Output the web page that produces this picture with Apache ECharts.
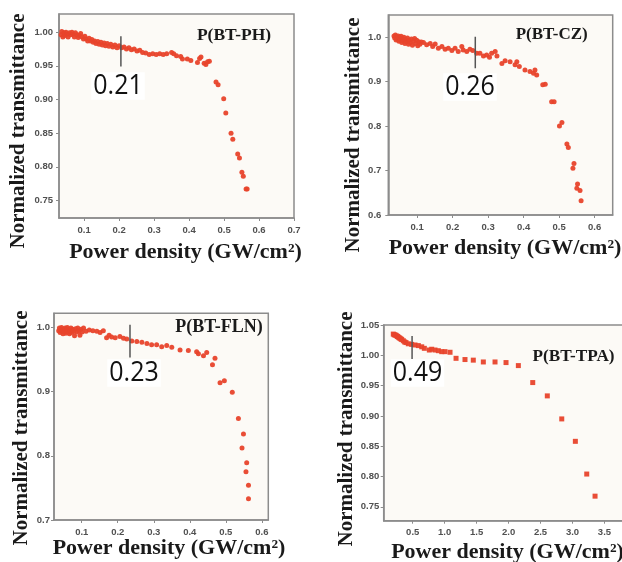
<!DOCTYPE html>
<html><head><meta charset="utf-8">
<script src="https://cdn.jsdelivr.net/npm/echarts@6/dist/echarts.min.js"></script>
<style>html,body{margin:0;padding:0;background:#fff}#c{width:622px;height:562px}</style>
</head><body><div id="c"></div>
<script>
// ---------- DATA ----------
const sampleNames = ['P(BT-PH)', 'P(BT-CZ)', 'P(BT-FLN)', 'P(BT-TPA)'];
const thresholdLabels = ['0.21', '0.26', '0.23', '0.49'];
const yTitle = 'Normalized transmittance';
const xTitle = 'Power density (GW/cm²)';

const phData = [[0.034,0.996],[0.036,1.001],[0.039,0.993],[0.042,0.999],[0.045,0.995],[0.048,1.000],[0.051,0.997],[0.054,0.993],[0.058,0.999],[0.061,0.996],[0.065,1.000],[0.068,0.997],[0.072,0.993],[0.075,0.999],[0.079,0.996],[0.083,0.992],[0.086,0.995],[0.090,0.998],[0.094,0.993],[0.098,0.990],[0.102,0.994],[0.106,0.990],[0.110,0.987],[0.114,0.991],[0.118,0.987],[0.122,0.989],[0.126,0.985],[0.130,0.987],[0.134,0.983],[0.139,0.986],[0.143,0.982],[0.148,0.985],[0.152,0.981],[0.157,0.984],[0.161,0.980],[0.166,0.983],[0.171,0.979],[0.176,0.982],[0.182,0.978],[0.188,0.981],[0.194,0.977],[0.200,0.980],[0.207,0.977],[0.214,0.978],[0.221,0.975],[0.228,0.977],[0.235,0.974],[0.243,0.975],[0.251,0.972],[0.259,0.973],[0.267,0.970],[0.276,0.969],[0.286,0.967],[0.296,0.968],[0.306,0.967],[0.316,0.968],[0.326,0.967],[0.336,0.968],[0.350,0.970],[0.356,0.968],[0.364,0.965],[0.376,0.964],[0.381,0.960],[0.395,0.960],[0.405,0.958],[0.424,0.955],[0.430,0.961],[0.434,0.963],[0.443,0.954],[0.448,0.952],[0.453,0.956],[0.458,0.957],[0.477,0.926],[0.483,0.922],[0.499,0.901],[0.505,0.880],[0.520,0.850],[0.525,0.841],[0.539,0.819],[0.544,0.813],[0.551,0.792],[0.555,0.786],[0.563,0.767],[0.566,0.767]];

const czData = [[0.035,1.003],[0.037,0.998],[0.039,1.005],[0.041,0.994],[0.043,1.001],[0.045,0.996],[0.047,1.003],[0.049,0.991],[0.051,0.999],[0.053,0.994],[0.055,1.002],[0.057,0.988],[0.059,0.997],[0.061,0.992],[0.063,1.000],[0.066,0.986],[0.068,0.995],[0.070,0.990],[0.073,0.998],[0.076,0.984],[0.078,0.993],[0.081,0.988],[0.084,0.996],[0.087,0.982],[0.090,0.992],[0.093,0.997],[0.096,0.986],[0.099,0.993],[0.102,0.981],[0.105,0.990],[0.108,0.984],[0.112,0.989],[0.118,0.988],[0.127,0.983],[0.137,0.986],[0.144,0.979],[0.151,0.985],[0.160,0.975],[0.170,0.979],[0.179,0.973],[0.188,0.975],[0.198,0.970],[0.207,0.975],[0.216,0.968],[0.226,0.979],[0.230,0.971],[0.240,0.968],[0.249,0.973],[0.257,0.970],[0.268,0.964],[0.277,0.964],[0.287,0.958],[0.296,0.960],[0.304,0.955],[0.310,0.964],[0.320,0.968],[0.325,0.958],[0.339,0.941],[0.348,0.947],[0.362,0.945],[0.376,0.938],[0.381,0.945],[0.388,0.934],[0.404,0.926],[0.418,0.923],[0.428,0.919],[0.432,0.926],[0.437,0.915],[0.454,0.893],[0.461,0.894],[0.479,0.855],[0.486,0.855],[0.501,0.800],[0.508,0.808],[0.522,0.760],[0.526,0.752],[0.542,0.716],[0.539,0.705],[0.552,0.670],[0.550,0.660],[0.559,0.655],[0.562,0.632]];

const flnData = [[0.036,0.995],[0.038,0.999],[0.040,0.992],[0.042,0.997],[0.044,1.000],[0.046,0.994],[0.048,0.990],[0.050,0.997],[0.052,0.993],[0.054,0.999],[0.056,0.991],[0.058,0.996],[0.060,1.000],[0.062,0.993],[0.064,0.997],[0.066,0.990],[0.068,0.995],[0.070,0.999],[0.072,0.992],[0.075,0.997],[0.078,0.994],[0.080,0.987],[0.083,0.998],[0.086,0.993],[0.089,0.999],[0.092,0.995],[0.095,0.988],[0.098,0.997],[0.101,0.993],[0.105,0.999],[0.112,0.994],[0.121,0.996],[0.131,0.995],[0.142,0.994],[0.151,0.992],[0.160,0.995],[0.169,0.984],[0.176,0.988],[0.183,0.985],[0.193,0.984],[0.206,0.986],[0.216,0.983],[0.225,0.982],[0.239,0.979],[0.253,0.978],[0.267,0.977],[0.281,0.975],[0.294,0.973],[0.308,0.973],[0.322,0.970],[0.336,0.972],[0.350,0.969],[0.373,0.965],[0.396,0.964],[0.419,0.962],[0.424,0.959],[0.438,0.956],[0.447,0.961],[0.463,0.942],[0.470,0.952],[0.484,0.914],[0.496,0.917],[0.518,0.899],[0.535,0.858],[0.549,0.834],[0.545,0.812],[0.558,0.789],[0.556,0.775],[0.563,0.754],[0.563,0.733]];

const tpaData = [[0.196,1.035],[0.210,1.034],[0.223,1.0335],[0.237,1.033],[0.250,1.032],[0.262,1.031],[0.275,1.030],[0.288,1.029],[0.301,1.028],[0.315,1.027],[0.328,1.026],[0.353,1.024],[0.374,1.022],[0.395,1.021],[0.431,1.019],[0.484,1.018],[0.536,1.017],[0.588,1.016],[0.641,1.014],[0.682,1.0115],[0.760,1.0087],[0.797,1.010],[0.849,1.0087],[0.901,1.0076],[0.954,1.006],[1.005,1.006],[1.084,1.005],[1.178,0.995],[1.318,0.993],[1.448,0.992],[1.605,0.989],[1.788,0.989],[1.960,0.988],[2.153,0.983],[2.378,0.955],[2.606,0.933],[2.832,0.895],[3.045,0.858],[3.223,0.804],[3.353,0.7675]];

// threshold marker segments [x, yLow, yHigh]
const markPH = [0.205, 0.949, 0.994];
const markCZ = [0.264, 0.930, 1.001];
const markFLN = [0.234, 0.953, 1.004];
const markTPA = [0.49, 0.994, 1.032];

// tick values
const xTicksPH = [0.1,0.2,0.3,0.4,0.5,0.6,0.7];
const yTicksPH = [0.75,0.80,0.85,0.90,0.95,1.00];
const xTicksCZ = [0.1,0.2,0.3,0.4,0.5,0.6];
const yTicksCZ = [0.6,0.7,0.8,0.9,1.0];
const xTicksFLN = [0.1,0.2,0.3,0.4,0.5,0.6];
const yTicksFLN = [0.7,0.8,0.9,1.0];
const xTicksTPA = [0.5,1.0,1.5,2.0,2.5,3.0,3.5];
const yTicksTPA = [0.75,0.80,0.85,0.90,0.95,1.00,1.05];

// ---------- LAYOUT ----------
const panels = [
  {data: phData, mark: markPH, xt: xTicksPH, yt: yTicksPH, xd: 1, yd: 2,
   grid: {left: 59, top: 14, width: 235, height: 204}, xr: [0.028, 0.70], yr: [0.724, 1.027], ylm: 6,
   name: [234, 35, 17.5], num: [118, 86], yt_: [19, 131], xt_: [185.5, 252], sym: 'circle'},
  {data: czData, mark: markCZ, xt: xTicksCZ, yt: yTicksCZ, xd: 1, yd: 1,
   grid: {left: 388.3, top: 15, width: 224.4, height: 200}, xr: [0.019, 0.651], yr: [0.6, 1.05], ylm: 7,
   name: [551.7, 35, 17], num: [470, 87], yt_: [354, 135], xt_: [505, 248], sym: 'circle'},
  {data: flnData, mark: markFLN, xt: xTicksFLN, yt: yTicksFLN, xd: 1, yd: 1,
   grid: {left: 54, top: 313.3, width: 214.3, height: 206.7}, xr: [0.023, 0.618], yr: [0.7, 1.022], ylm: 4,
   name: [219, 327, 18], num: [134, 373], yt_: [21.7, 428], xt_: [169, 548], sym: 'circle'},
  {data: tpaData, mark: markTPA, xt: xTicksTPA, yt: yTicksTPA, xd: 1, yd: 2,
   grid: {left: 383.7, top: 325, width: 252.7, height: 195.7}, xr: [0.046, 4.0], yr: [0.727, 1.05], ylm: 4.5,
   name: [573.5, 357, 17.2], num: [417.5, 373], yt_: [347, 429], xt_: [507.5, 552], sym: 'rect'}
];

const chart = echarts.init(document.getElementById('c'), null, {renderer: 'canvas'});
const axisColor = '#8c8c8c';
const labelStyle = {color: '#505050', fontSize: 9.5, fontWeight: 'bold', fontFamily: 'Liberation Sans, Arial, sans-serif'};

const option = {
  backgroundColor: '#ffffff',
  animation: false,
  grid: panels.map(p => Object.assign({
    show: true, backgroundColor: '#fcfaf6', borderColor: axisColor, borderWidth: 1.5,
    containLabel: false, outerBoundsMode: 'none'
  }, p.grid)),
  xAxis: panels.map((p, i) => ({
    type: 'value', gridIndex: i, min: p.xr[0], max: p.xr[1],
    splitLine: {show: false},
    axisLine: {show: true, lineStyle: {color: axisColor, width: 1.5}},
    axisTick: {show: true, inside: false, length: 3, lineStyle: {color: axisColor}, customValues: p.xt},
    axisLabel: Object.assign({margin: 7, customValues: p.xt, formatter: v => Number(v).toFixed(p.xd)}, labelStyle)
  })),
  yAxis: panels.map((p, i) => ({
    type: 'value', gridIndex: i, min: p.yr[0], max: p.yr[1],
    splitLine: {show: false},
    axisLine: {show: true, lineStyle: {color: axisColor, width: 1.5}},
    axisTick: {show: true, inside: false, length: 3, lineStyle: {color: axisColor}, customValues: p.yt},
    axisLabel: Object.assign({margin: p.ylm, customValues: p.yt, formatter: v => Number(v).toFixed(p.yd)}, labelStyle)
  })),
  series: [].concat(
    panels.map((p, i) => ({
      type: 'scatter', xAxisIndex: i, yAxisIndex: i, data: p.data,
      symbol: p.sym, symbolSize: 5,
      itemStyle: {color: '#e8432b', opacity: 0.95}, silent: true
    })),
    panels.map((p, i) => ({
      type: 'line', xAxisIndex: i, yAxisIndex: i,
      data: [[p.mark[0], p.mark[1]], [p.mark[0], p.mark[2]]],
      symbol: 'none', lineStyle: {color: '#555', width: 1.5}, silent: true, z: 5
    }))
  ),
  graphic: []
};

panels.forEach((p, i) => {
  option.graphic.push({type: 'text', x: p.name[0], y: p.name[1], z: 10, silent: true,
    style: {text: sampleNames[i], font: 'bold ' + p.name[2] + 'px "Liberation Serif", "Times New Roman", serif',
      fill: '#1a1a1a', textAlign: 'center', textVerticalAlign: 'middle', align: 'center', verticalAlign: 'middle'}});
  option.graphic.push({type: 'text', x: p.num[0], y: p.num[1], z: 10, silent: true, scaleY: 1.1,
    style: {text: thresholdLabels[i], font: '25px "Open Sans", "Noto Sans", sans-serif',
      fill: '#111', textAlign: 'center', textVerticalAlign: 'middle', align: 'center', verticalAlign: 'middle',
      backgroundColor: '#ffffff', padding: [0, 2, 0, 2]}});
  option.graphic.push({type: 'text', x: p.yt_[0], y: p.yt_[1], rotation: Math.PI / 2, z: 10, silent: true,
    style: {text: yTitle, font: 'bold 21px "Liberation Serif", "Times New Roman", serif',
      fill: '#1a1a1a', textAlign: 'center', textVerticalAlign: 'middle', align: 'center', verticalAlign: 'middle'}});
  option.graphic.push({type: 'text', x: p.xt_[0], y: p.xt_[1], z: 10, silent: true,
    style: {text: xTitle, font: 'bold 22px "Liberation Serif", "Times New Roman", serif',
      fill: '#1a1a1a', textAlign: 'center', textVerticalAlign: 'middle', align: 'center', verticalAlign: 'middle'}});
});

chart.setOption(option);
</script></body></html>
